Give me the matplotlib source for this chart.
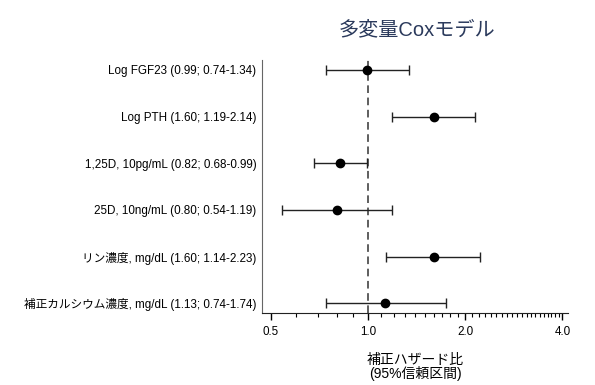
import matplotlib
matplotlib.use("Agg")
import matplotlib.pyplot as plt
import numpy as np
from matplotlib.ticker import FixedLocator, NullFormatter

plt.rcParams['font.family'] = ['Liberation Sans', 'Noto Sans CJK JP', 'DejaVu Sans']

# data
labels = [
    "Log FGF23 (0.99; 0.74-1.34)",
    "Log PTH (1.60; 1.19-2.14)",
    "1,25D, 10pg/mL (0.82; 0.68-0.99)",
    "25D, 10ng/mL (0.80; 0.54-1.19)",
    "リン濃度, mg/dL (1.60; 1.14-2.23)",
    "補正カルシウム濃度, mg/dL (1.13; 0.74-1.74)",
]
hr = [0.99, 1.60, 0.82, 0.80, 1.60, 1.13]
ci_low = [0.74, 1.19, 0.68, 0.54, 1.14, 0.74]
ci_high = [1.34, 2.14, 0.99, 1.19, 2.23, 1.74]
xticks = [0.5, 1.0, 2.0, 4.0]
xtick_labels = ["0.5", "1.0", "2.0", "4.0"]

fig = plt.figure(figsize=(5.95, 3.85), dpi=100)
ax = fig.add_axes([0.440, 0.187, 0.515, 0.657])

y = np.arange(len(labels))
hr = np.array(hr)
err = [hr - np.array(ci_low), np.array(ci_high) - hr]

ax.axvline(1.0, color='#333333', linestyle=(0, (5, 3)), linewidth=1.1, zorder=1)
ax.errorbar(hr, y, xerr=err, fmt='o', color='black', ecolor='#222222',
            elinewidth=1.0, capsize=3.5, capthick=1.0, markersize=6, zorder=3)

ax.set_xscale('log')
ax.set_xlim(0.469, 4.17)
ax.set_ylim(len(labels) - 1 + 0.21, -0.21)

ax.xaxis.set_major_locator(FixedLocator(xticks))
ax.set_xticklabels(xtick_labels, fontsize=8.4)
minor = [v / 10 for v in range(5, 41) if v not in (5, 10, 20, 40)]
ax.xaxis.set_minor_locator(FixedLocator(minor))
ax.xaxis.set_minor_formatter(NullFormatter())
ax.tick_params(axis='x', which='major', length=5, width=1.0, direction='out', pad=4)
ax.tick_params(axis='x', which='minor', length=3, width=0.8, direction='out')

ax.set_yticks(y)
ax.set_yticklabels(labels, fontsize=8.4)
ax.tick_params(axis='y', length=0, pad=4)

for side in ['top', 'right']:
    ax.spines[side].set_visible(False)
ax.spines['left'].set_color('#666666')
ax.spines['bottom'].set_color('#222222')

ax.set_xlabel("補正ハザード比\n(95%信頼区間)", fontsize=10, labelpad=11, linespacing=0.95)
fig.text(0.70, 0.922, "多変量Coxモデル", fontsize=14.5, color='#2b3a5c',
         ha='center', va='center')

plt.savefig("out.png", dpi=100)
